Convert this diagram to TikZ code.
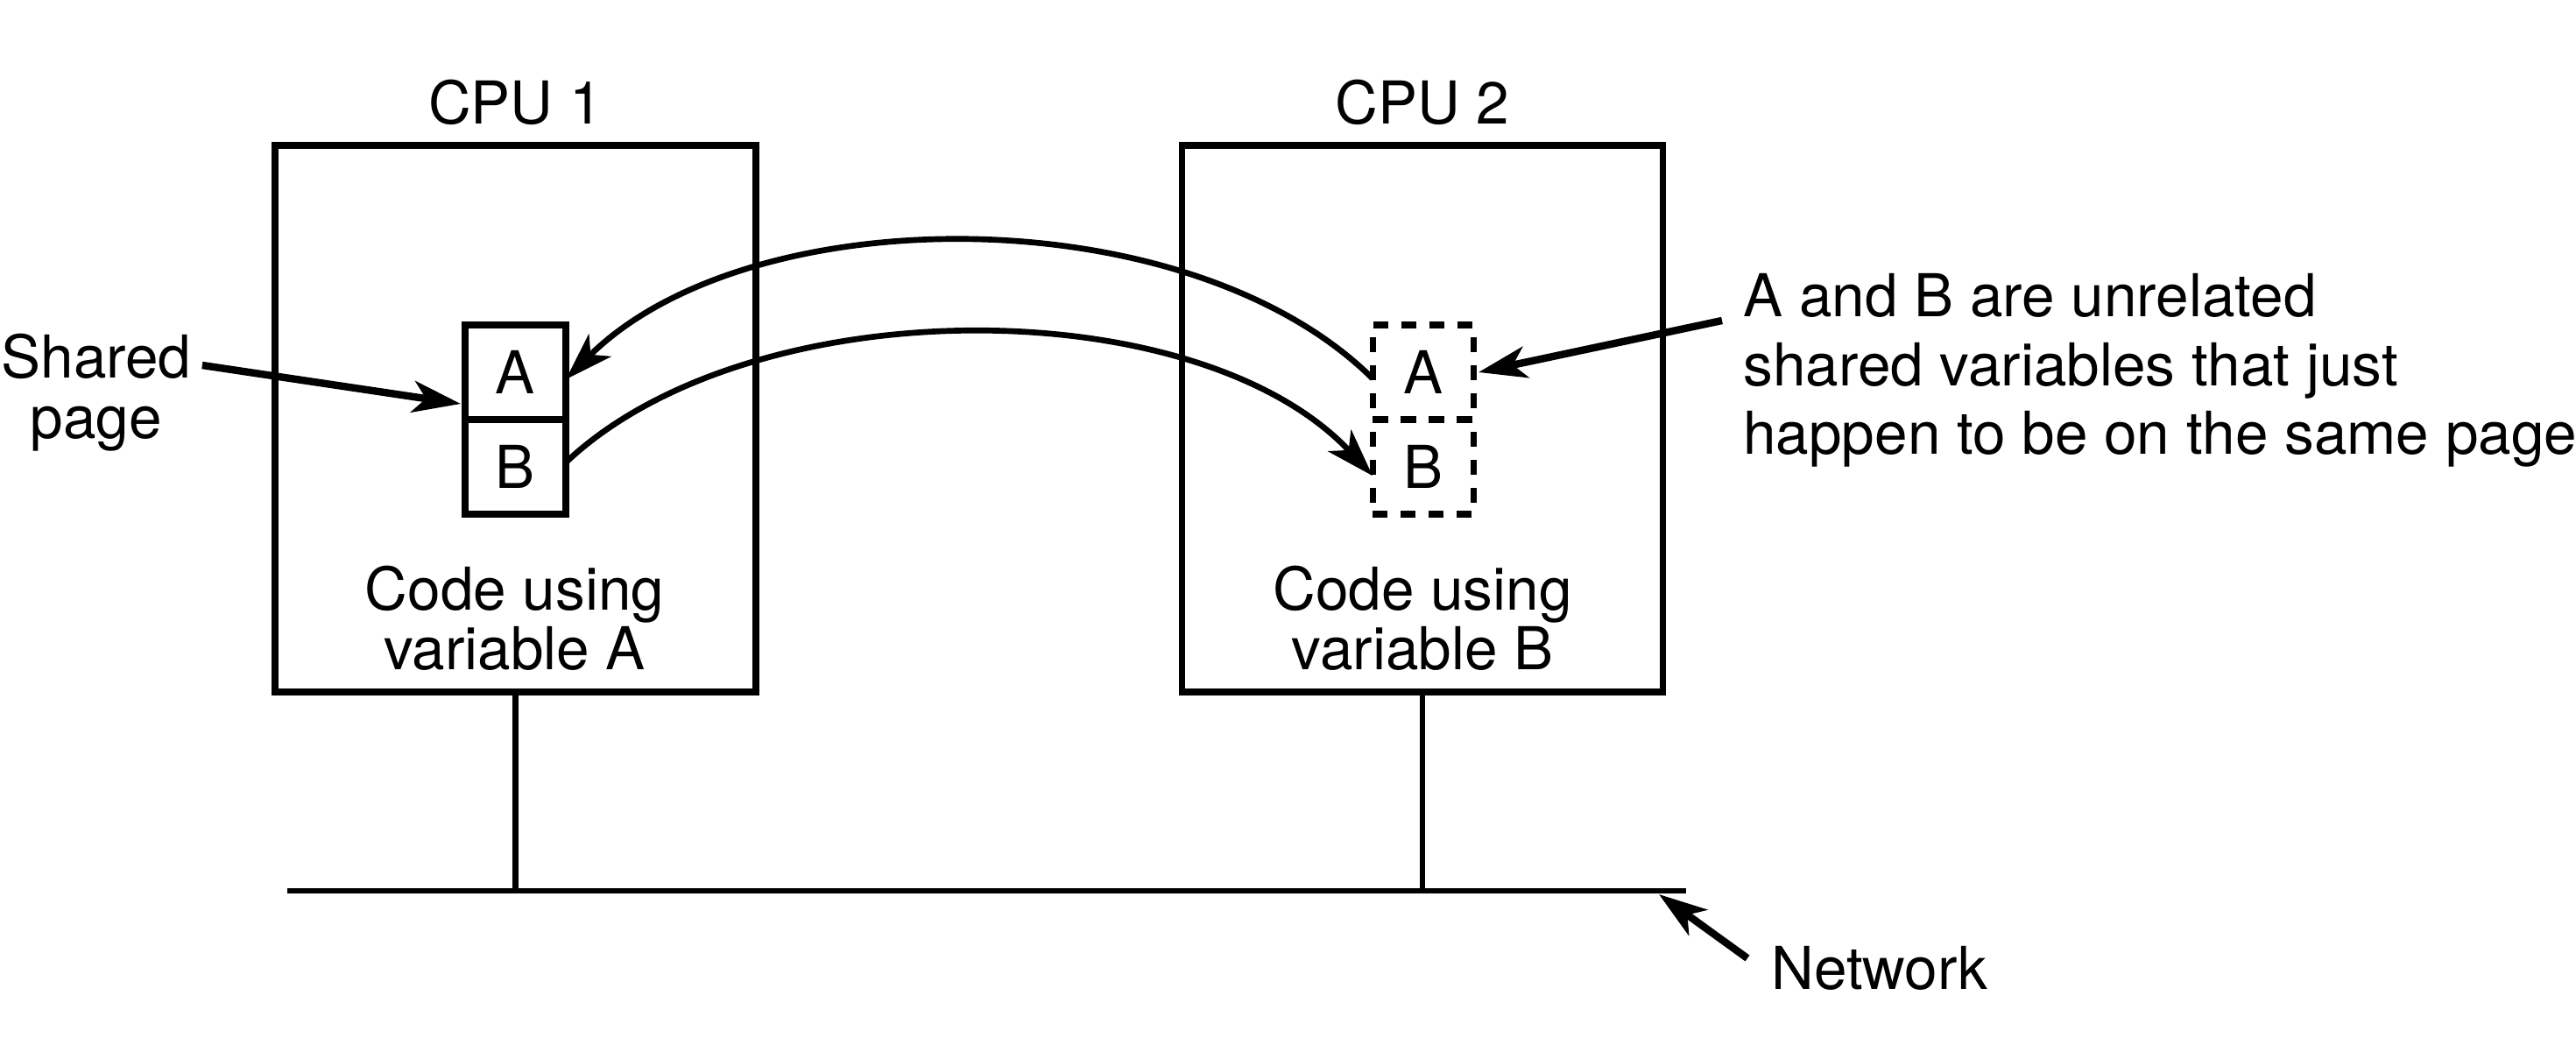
\documentclass[tikz,border=0pt]{standalone}
\usepackage{fontspec}
\setmainfont{TeX Gyre Heros}
\usetikzlibrary{arrows.meta,positioning}
\begin{document}
\begin{tikzpicture}[font=\fontsize{19.2}{19.5}\selectfont,
  cpubox/.style={draw,line width=2pt,minimum width=5.49cm,minimum height=6.24cm},
  cell/.style={draw,line width=2pt,minimum width=1.15cm,minimum height=1.08cm,inner sep=0pt,outer sep=0pt},
  ghostcell/.style={cell,dash pattern=on 4.8pt off 4.3pt},
  tip/.style={-{Stealth[length=0.55cm,width=0.36cm,inset=0.15cm]}},
  pointer/.style={tip,line width=2.4pt},
  swap/.style={tip,line width=1.9pt},
  wire/.style={line width=1.9pt}]
\useasboundingbox (0,0) rectangle (29.41,12);
\node[cpubox] (cpu1) at (5.885,7.22) {};
\node[cpubox] (cpu2) at (16.24,7.22) {};
\node[above=0.07cm of cpu1] (cpu1lbl) {CPU 1};
\node[above=0.07cm of cpu2] (cpu2lbl) {CPU 2};
\node[cell] (sA) at (5.885,7.75) {A};
\node[cell,below=0pt of sA] (sB) {B};
\node[ghostcell] (dA) at (16.245,7.75) {A};
\node[ghostcell,below=0pt of dA] (dB) {B};
\node[align=center] (code1) at (5.875,4.94) {Code using\\variable A};
\node[align=center] (code2) at (16.24,4.94) {Code using\\variable B};
\node[align=center] (share) at (1.1,7.52) {Shared\\page};
\node[align=left,anchor=west,font=\fontsize{19.2}{22.4}\selectfont] (note) at (19.78,7.77)
  {A and B are unrelated\\shared variables that just\\happen to be on the same page};
\node[anchor=west] (net) at (20.1,0.95) {Network};
\coordinate (netL) at (3.28,1.83);
\coordinate (netR) at (19.25,1.83);
\coordinate (nethit) at (18.94,1.79);
\draw[wire] (netL) -- (netR);
\draw[wire] (cpu1.south) -- (cpu1.south |- netL);
\draw[wire] (cpu2.south) -- (cpu2.south |- netL);
\draw[swap] (dA.187) .. controls +(-2.1,2.08) and +(2.1,2.09) .. (sA.352);
\draw[swap] (sB.5) .. controls +(2.1,1.99) and +(-2.0,2.14) .. (dB.190);
\draw[pointer] ([yshift=0.31cm]share.east) -- ([xshift=-0.05cm,yshift=-0.36cm]sA.west);
\draw[pointer] ([xshift=-0.12cm,yshift=0.57cm]note.west) -- ([xshift=0.06cm]dA.east);
\draw[pointer] ([xshift=-0.15cm,yshift=0.11cm]net.west) -- (nethit);
\end{tikzpicture}
\end{document}
